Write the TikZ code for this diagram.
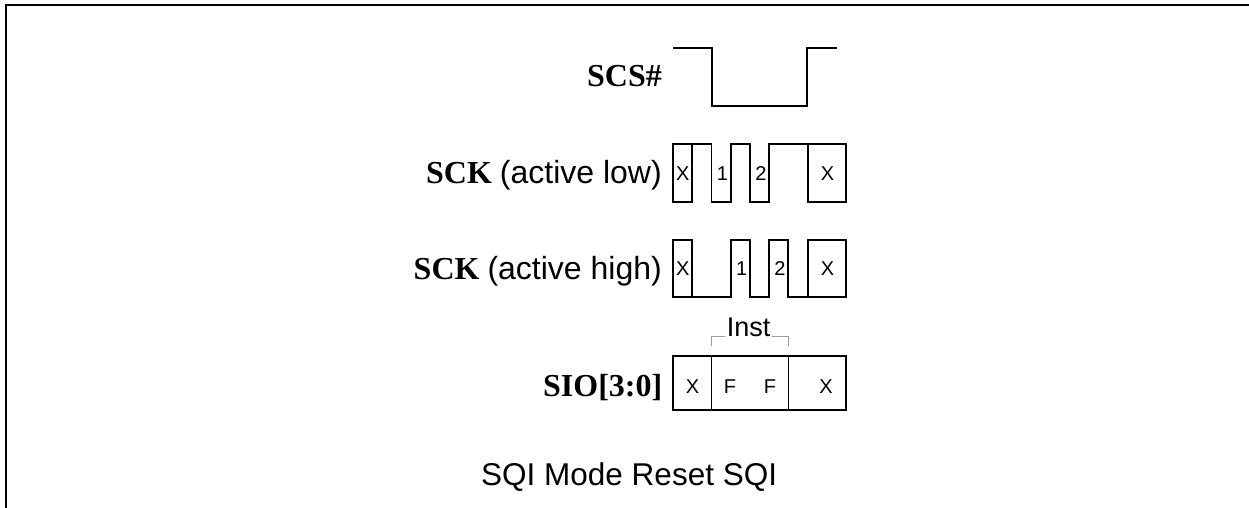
\documentclass[tikz,border=0pt]{standalone}
\usepackage{fontspec}
\setmainfont{Liberation Serif}
\newfontfamily\arialf{Liberation Sans}
\begin{document}
\begin{tikzpicture}[x=1pt,y=-1pt,
  wave/.style={line width=1.3pt, line join=miter},
  lbl/.style={inner sep=0pt, font=\fontsize{32}{38}\selectfont},
  cell/.style={inner sep=0pt, anchor=base, font=\arialf\fontsize{20}{24}\selectfont},
  brk/.style={line width=1.3pt, draw=black!38}]
\useasboundingbox (0,0) rectangle (1249,508);
% frame
\draw[line width=2.3pt] (6,508) -- (6,5) -- (1249,5);
% SCS#
\draw[wave] (673,48) -- (712,48) -- (712,106) -- (807,106) -- (807,48) -- (837,48);
\node[lbl, anchor=base east] (scs) at (662,86.7) {\textbf{SCS\#}};
% SCK active low
\draw[wave] (673,144) rectangle (692,202);
\draw[wave] (692,144) -- (711.5,144) -- (711.5,202) -- (731,202) -- (731,144) -- (750,144) -- (750,202) -- (769,202) -- (769,144) -- (808,144);
\draw[wave] (808,144) rectangle (846,202);
\node[lbl, anchor=base east] (scklow) at (662,183.3) {\textbf{SCK} {\arialf (active low)}};
\node[cell] (l1) at (682.7,180) {X};
\node[cell] (l2) at (722.5,180) {1};
\node[cell] (l3) at (761,180) {2};
\node[cell] (l4) at (827.5,180) {X};
% SCK active high
\draw[wave] (673,240) rectangle (692,297);
\draw[wave] (692,297) -- (731,297) -- (731,240) -- (750,240) -- (750,297) -- (769,297) -- (769,240) -- (788,240) -- (788,297) -- (808,297);
\draw[wave] (808,240) rectangle (846,297);
\node[lbl, anchor=base east] (sckhigh) at (662,279.3) {\textbf{SCK} {\arialf (active high)}};
\node[cell] (h1) at (682.7,275) {X};
\node[cell] (h2) at (741.7,275) {1};
\node[cell] (h3) at (780,275) {2};
\node[cell] (h4) at (827.5,275) {X};
% Inst bracket
\draw[brk] (711.7,346) -- (711.7,336.7) -- (725,336.7);
\draw[brk] (771.7,336.7) -- (788.3,336.7) -- (788.3,346);
\node[inner sep=0pt, anchor=base, font=\arialf\fontsize{27}{32}\selectfont] (inst) at (748.5,336) {Inst};
% SIO
\draw[wave] (673,356) rectangle (846,410);
\draw[wave] (711.7,356) -- (711.7,410);
\draw[wave] (788.3,356) -- (788.3,410);
\node[lbl, anchor=base east] (sio) at (662.5,396) {\textbf{SIO[3:0]}};
\node[cell] (s1) at (692.5,393) {X};
\node[cell] (s2) at (730,393) {F};
\node[cell] (s3) at (770,393) {F};
\node[cell] (s4) at (826,393) {X};
% caption
\node[inner sep=0pt, anchor=base west, font=\arialf\fontsize{31.5}{38}\selectfont] (cap) at (481,485) {SQI Mode Reset SQI};
\end{tikzpicture}
\end{document}
